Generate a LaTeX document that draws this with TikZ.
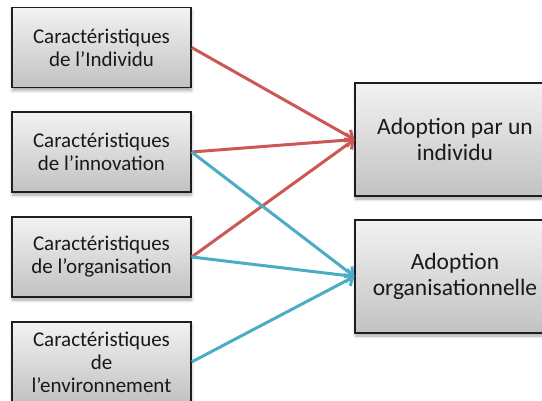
\documentclass[tikz,border=0pt]{standalone}
\usepackage{fontspec}
\setmainfont{Carlito}
\usetikzlibrary{arrows.meta,shadows.blur}
\definecolor{redarr}{RGB}{203,88,83}
\definecolor{bluearr}{RGB}{75,172,198}
\definecolor{boxline}{RGB}{30,30,30}
\tikzset{
  box/.style={draw=boxline, line width=1.3pt, top color=white!95!black,
    bottom color=white!76!black, align=center, inner sep=2pt, text=black!90,
    blur shadow={shadow xshift=0.5pt, shadow yshift=-3pt, shadow blur radius=3pt, shadow opacity=35}},
  lbox/.style={box, minimum width=179pt, minimum height=80pt, font=\fontsize{21}{23}\selectfont},
  rbox/.style={box, minimum width=200pt, minimum height=113pt, font=\fontsize{23.5}{26}\selectfont},
  redlink/.style={draw=redarr, line width=3pt, -{Straight Barb[length=6pt,width=13pt]}},
  bluelink/.style={draw=bluearr, line width=3pt, -{Straight Barb[length=6pt,width=13pt]}}
}
\begin{document}
\begin{tikzpicture}[x=1pt,y=-1pt]
\useasboundingbox (0,0) rectangle (542,401);
\node[lbox] (l1) at (101.5,47.5) {Caractéristiques\\de l’Individu};
\node[lbox] (l2) at (101.5,152) {Caractéristiques\\de l’innovation};
\node[lbox] (l3) at (101.5,257) {Caractéristiques\\de l’organisation};
\node[lbox] (l4) at (101.5,362) {Caractéristiques\\de\\l’environnement};
\node[rbox] (ra) at (455,139.5) {Adoption par un\\individu};
\node[rbox] (rb) at (455,276.5) {Adoption\\organisationnelle};
\draw[redlink] (l1.east) -- (ra.west);
\draw[redlink] (l2.east) -- (ra.west);
\draw[redlink] (l3.east) -- (ra.west);
\draw[bluelink] (l2.east) -- (rb.west);
\draw[bluelink] (l3.east) -- (rb.west);
\draw[bluelink] (l4.east) -- (rb.west);
\end{tikzpicture}
\end{document}
